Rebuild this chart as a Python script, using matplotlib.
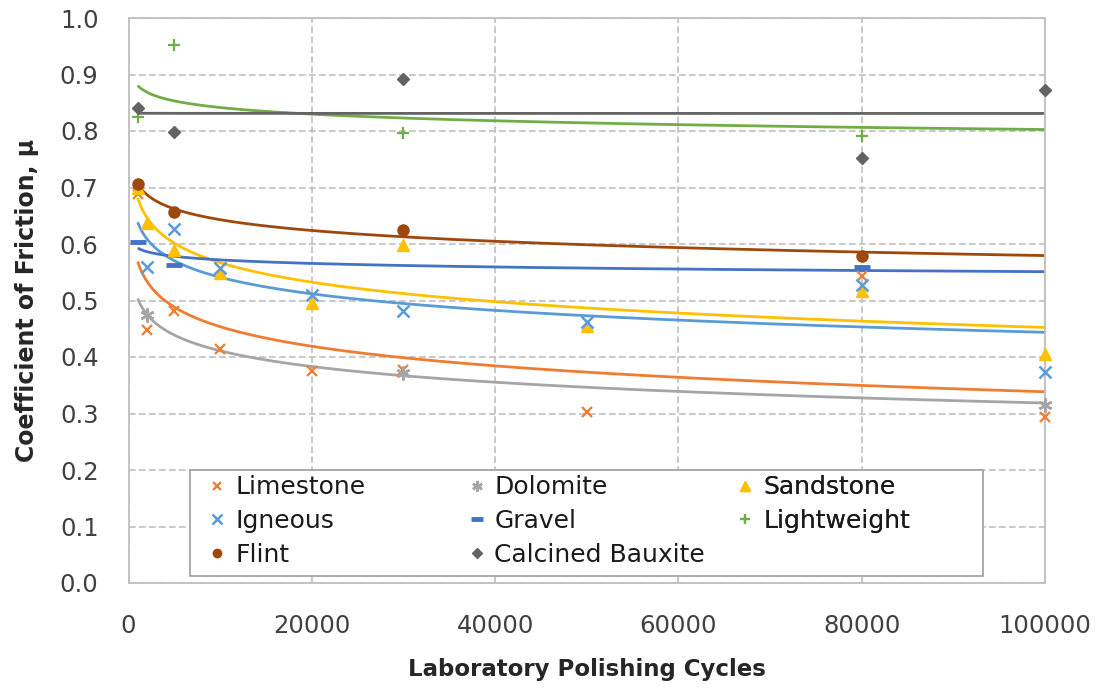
import numpy as np
import matplotlib
matplotlib.use("Agg")
import matplotlib.pyplot as plt
from matplotlib.patches import Rectangle

plt.rcParams['font.family'] = ['DejaVu Sans']

# ---------------- data ----------------
cycles = [1000, 2000, 5000, 10000, 20000, 30000, 50000, 80000, 100000]
nan = np.nan
limestone = [0.688, 0.448, 0.482, 0.414, 0.376, 0.377, 0.302, 0.543, 0.294]
dolomite = [nan, 0.474, nan, nan, nan, 0.372, nan, nan, 0.315]
sandstone = [0.700, 0.637, 0.589, 0.548, 0.496, 0.598, 0.455, 0.516, 0.405]
igneous = [nan, 0.560, 0.626, 0.557, 0.510, 0.481, 0.462, 0.527, 0.374]
gravel = [0.603, nan, 0.562, nan, nan, nan, nan, 0.559, nan]
lightweight = [0.824, nan, 0.952, nan, nan, 0.796, nan, 0.791, nan]
flint = [0.707, nan, 0.657, nan, nan, 0.625, nan, 0.578, nan]
bauxite = [0.841, nan, 0.798, nan, nan, 0.892, nan, 0.752, 0.873]

x_ticks = [0, 20000, 40000, 60000, 80000, 100000]
y_ticks = [0.0, 0.1, 0.2, 0.3, 0.4, 0.5, 0.6, 0.7, 0.8, 0.9, 1.0]

series = [
    # name, values, color, marker, ms, mew
    ("Limestone", limestone, "#ED7D31", "x", 7, 1.6),
    ("Dolomite", dolomite, "#A5A5A5", (6, 2, 0), 10, 1.8),
    ("Sandstone", sandstone, "#FFC000", "^", 9, 1.0),
    ("Igneous", igneous, "#5B9BD5", "x", 9, 1.8),
    ("Gravel", gravel, "#4472C4", "_", 11, 3.5),
    ("Lightweight", lightweight, "#70AD47", "+", 9, 1.6),
    ("Flint", flint, "#9E480E", "o", 8, 1.0),
    ("Calcined Bauxite", bauxite, "#636363", "D", 6.5, 1.0),
]

W, H = 1099, 691
fig = plt.figure(figsize=(W / 100, H / 100), dpi=100)
L, R, T, B = 128.5, 1045, 18, 583
ax = fig.add_axes([L / W, 1 - B / H, (R - L) / W, (B - T) / H])

x_arr = np.array(cycles, dtype=float)
xs = np.linspace(x_arr.min(), x_arr.max(), 600)
handles = {}
for name, vals, color, marker, ms, mew in series:
    y = np.array(vals, dtype=float)
    ok = ~np.isnan(y)
    # logarithmic trendline (least squares on ln x), as in the spreadsheet
    a, b = np.polyfit(np.log(x_arr[ok]), y[ok], 1)
    ax.plot(xs, a * np.log(xs) + b, color=color, lw=2.0, zorder=2,
            solid_capstyle='butt')
    h, = ax.plot(x_arr[ok], y[ok], linestyle='none', marker=marker,
                 markersize=ms, markeredgewidth=mew, color=color,
                 markerfacecolor=color, markeredgecolor=color, zorder=3,
                 clip_on=False)
    handles[name] = h

ax.set_xlim(0, 100000)
ax.set_ylim(0, 1.0)
ax.set_xticks(x_ticks)
ax.set_xticklabels([str(v) for v in x_ticks])
ax.set_yticks(y_ticks)
ax.set_yticklabels([f"{v:.1f}" for v in y_ticks])
ax.grid(True, color='#BFBFBF', linestyle=(0, (4, 2)), linewidth=1.2, zorder=0)
ax.set_axisbelow(True)
for s in ax.spines.values():
    s.set_color('#BFBFBF')
    s.set_linewidth(1.3)
ax.tick_params(axis='both', length=0, labelsize=17.5, labelcolor='#404040')
ax.tick_params(axis='x', pad=22)
ax.tick_params(axis='y', pad=21.6)

ax.set_xlabel('Laboratory Polishing Cycles', fontsize=16.5, fontweight='bold',
              color='#262626', labelpad=15)
ax.set_ylabel('Coefficient of Friction, \u03bc', fontsize=17, fontweight='bold',
              color='#262626', labelpad=15)

# legend frame
lx0, ly0, lx1, ly1 = 190, 470, 983, 576
frame = Rectangle((lx0 / W, 1 - ly1 / H), (lx1 - lx0) / W, (ly1 - ly0) / H,
                  transform=fig.transFigure, facecolor='white',
                  edgecolor='#A6A6A6', linewidth=1.3, zorder=4, clip_on=False)
ax.add_patch(frame)

cols = [
    (["Limestone", "Igneous", "Flint"], 207, 521),
    (["Dolomite", "Gravel", "Calcined Bauxite"], 466.5, 521),
    (["Sandstone", "Lightweight"], 735, 504),
]
for names, hx, cy in cols:
    leg = ax.legend([handles[n] for n in names], names, loc='center left',
                    bbox_to_anchor=(hx / W, 1 - cy / H),
                    bbox_transform=fig.transFigure, frameon=False, fontsize=18,
                    handlelength=0.8, handletextpad=0.32, borderpad=0,
                    borderaxespad=0, labelspacing=0.38, markerscale=0.75)
    for t in leg.get_texts():
        t.set_color('#1a1a1a')
    leg.set_zorder(6)
    ax.add_artist(leg)

fig.savefig('out.png', dpi=100)
